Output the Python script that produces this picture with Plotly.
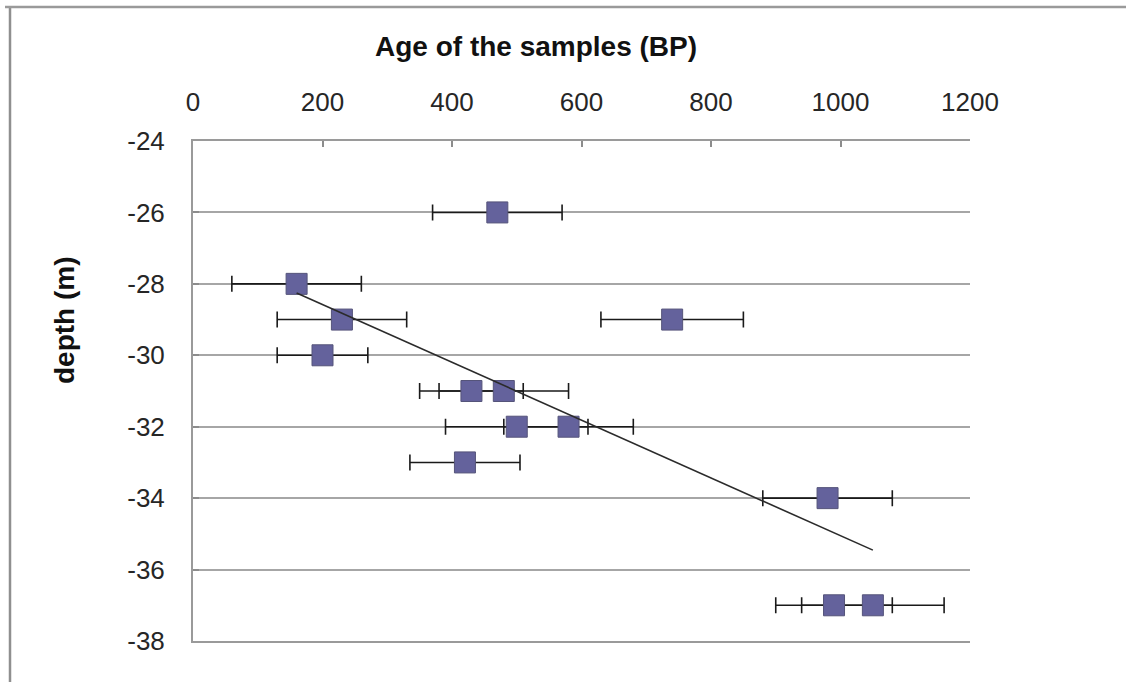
import numpy as np
import plotly.graph_objects as go

# Data
age_bp = [470, 160, 230, 740, 200, 430, 480, 500, 580, 420, 980, 990, 1050]
depth_m = [-26, -28, -29, -29, -30, -31, -31, -32, -32, -33, -34, -37, -37]
age_err = [100, 100, 100, 110, 70, 80, 100, 110, 100, 85, 100, 90, 110]

x_ticks = [0, 200, 400, 600, 800, 1000, 1200]
y_ticks = [-24, -26, -28, -30, -32, -34, -36, -38]
y_tick_labels = ["-24", "-26", "-28", "-30", "-32", "-34", "-36", "-38"]

# Linear trend (depth on age), drawn over the range of the data
slope, intercept = np.polyfit(age_bp, depth_m, 1)
trend_x = [min(age_bp), max(age_bp)]
trend_y = [slope * v + intercept for v in trend_x]

W, H = 1126, 682
L, R, T, B = 193, 970, 141, 641

FONT = "Liberation Sans, Arial, sans-serif"
TXT = "#262626"

fig = go.Figure()
fig.add_trace(go.Scatter(
    x=age_bp, y=depth_m, mode="markers",
    marker=dict(symbol="square", size=21, color="#64629c",
                line=dict(color="#55547a", width=1)),
    error_x=dict(type="data", array=age_err, symmetric=True,
                 color="#1a1a1a", thickness=1.6, width=8),
    showlegend=False,
))
fig.add_trace(go.Scatter(
    x=trend_x, y=trend_y, mode="lines",
    line=dict(color="#2b2b2b", width=1.6),
    showlegend=False,
))

def px_x(p):
    return (p - L) / (R - L)

def px_y(p):
    return (B - p) / (B - T)

fig.update_layout(
    width=W, height=H,
    margin=dict(l=L, r=W - R, t=T, b=H - B, pad=0),
    paper_bgcolor="white", plot_bgcolor="white",
    font=dict(family=FONT, color=TXT, size=26),
    xaxis=dict(
        side="top", range=[0, 1200], tickvals=x_ticks,
        ticks="inside", ticklen=6, tickcolor="#8c8c8c", tickwidth=1.5,
        showline=True, linecolor="#9a9a9a", linewidth=2, mirror=True,
        showgrid=False, zeroline=False,
        tickfont=dict(family=FONT, size=26, color=TXT),
        ticklabelstandoff=18,
    ),
    yaxis=dict(
        range=[-38, -24], tickvals=y_ticks, ticktext=y_tick_labels,
        ticks="inside", ticklen=6, tickcolor="#8c8c8c", tickwidth=1.5,
        showline=True, linecolor="#9a9a9a", linewidth=2,
        showgrid=True, gridcolor="#a6a6a6", gridwidth=1.5,
        zeroline=False,
        tickfont=dict(family=FONT, size=26, color=TXT),
        ticklabelstandoff=21,
    ),
    annotations=[
        dict(text="<b>Age of the samples (BP)</b>", xref="paper", yref="paper",
             x=px_x(536), y=px_y(46), xanchor="center", yanchor="middle",
             showarrow=False, font=dict(family=FONT, size=28, color="#111")),
        dict(text="<b>depth (m)</b>", xref="paper", yref="paper",
             x=px_x(64), y=px_y(320), xanchor="center", yanchor="middle",
             textangle=-90, showarrow=False,
             font=dict(family=FONT, size=28, color="#111")),
    ],
    shapes=[
        dict(type="line", xref="paper", yref="paper",
             x0=px_x(10), x1=px_x(10), y0=px_y(7), y1=px_y(690),
             line=dict(color="#8f8f8f", width=2.5)),
        dict(type="line", xref="paper", yref="paper",
             x0=px_x(5), x1=px_x(1130), y0=px_y(7), y1=px_y(7),
             line=dict(color="#9a9a9a", width=2.5)),
    ],
)

fig.write_html(
    "out.html",
    config={"displayModeBar": False},
    post_script="document.body.style.margin='0';document.body.style.overflow='hidden';",
)
